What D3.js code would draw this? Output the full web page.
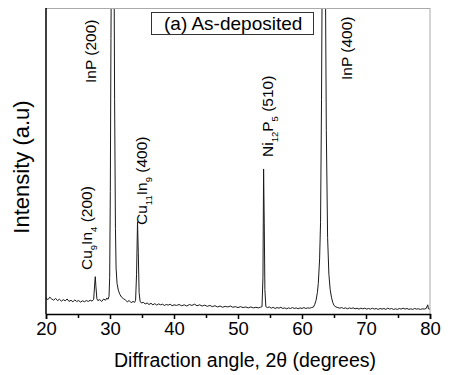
<!DOCTYPE html>
<html>
<head>
<meta charset="utf-8">
<script src="https://cdn.jsdelivr.net/npm/d3@7"></script>
<style>
  body { margin: 0; background: #fff; }
  text { font-family: "Liberation Sans", Arial, sans-serif; }
</style>
</head>
<body>
<div id="chart"></div>
<script>
// XRD scan, 2theta (deg) vs intensity (arbitrary units)
const scan = [
  [20.0,52],[20.3,47],[20.6,55],[20.9,49],[21.2,45],[21.5,51],[21.8,44],[22.1,48],[22.4,42],[22.7,47],
  [23.0,43],[23.3,49],[23.6,41],[23.9,45],[24.2,40],[24.5,46],[24.8,41],[25.1,44],[25.4,39],[25.7,43],
  [26.0,40],[26.3,44],[26.6,41],[26.9,45],[27.2,42],[27.45,48],[27.6,95],[27.7,122],[27.8,90],[27.95,50],
  [28.1,44],[28.4,47],[28.7,41],[29.0,49],[29.3,45],[29.5,52],[29.7,48],[29.85,58],[29.95,120],[30.05,400],
  [30.15,900],[30.3,1500],[30.45,1600],[30.6,1300],[30.72,700],[30.85,280],[30.95,150],[31.1,100],[31.3,78],[31.5,66],
  [31.8,55],[32.1,50],[32.4,46],[32.7,40],[33.0,44],[33.3,37],[33.6,41],[33.85,38],[34.0,45],[34.15,130],
  [34.3,301],[34.42,200],[34.55,70],[34.7,42],[34.9,36],[35.2,38],[35.5,33],[35.8,36],[36.1,31],[36.4,35],
  [36.7,30],[37.0,34],[37.3,29],[37.6,33],[37.9,30],[38.2,32],[38.5,28],[38.8,31],[39.1,29],[39.4,32],
  [39.7,27],[40.0,30],[40.4,28],[40.8,31],[41.2,27],[41.6,30],[42.0,26],[42.4,31],[42.8,28],[43.2,32],
  [43.6,27],[44.0,30],[44.4,26],[44.8,29],[45.2,25],[45.6,28],[46.0,24],[46.4,27],[46.8,23],[47.2,26],
  [47.6,22],[48.0,25],[48.4,23],[48.8,26],[49.2,22],[49.6,24],[50.0,21],[50.4,24],[50.8,21],[51.2,23],
  [51.6,20],[52.0,23],[52.4,20],[52.8,22],[53.2,20],[53.5,22],[53.75,24],[53.9,120],[54.0,474],[54.1,300],
  [54.2,80],[54.35,24],[54.6,21],[54.9,23],[55.2,19],[55.5,22],[55.8,18],[56.1,21],[56.4,19],[56.7,22],
  [57.0,18],[57.3,20],[57.6,17],[57.9,20],[58.2,18],[58.5,21],[58.8,18],[59.1,20],[59.4,17],[59.7,20],
  [60.0,18],[60.3,21],[60.6,18],[60.9,20],[61.2,19],[61.5,21],[61.8,23],[62.0,32],[62.2,45],[62.4,70],
  [62.55,100],[62.75,180],[62.9,300],[63.05,700],[63.2,1300],[63.4,1600],[63.6,1300],[63.8,600],[64.0,250],[64.2,130],
  [64.4,80],[64.6,55],[64.8,38],[65.0,28],[65.3,23],[65.6,21],[65.9,19],[66.2,21],[66.5,18],[66.8,20],
  [67.1,17],[67.4,20],[67.7,18],[68.0,20],[68.3,17],[68.6,19],[68.9,16],[69.2,19],[69.5,17],[69.8,19],
  [70.1,16],[70.4,18],[70.7,16],[71.0,19],[71.3,16],[71.6,18],[71.9,15],[72.2,18],[72.5,16],[72.8,18],
  [73.1,15],[73.4,19],[73.7,16],[74.0,18],[74.3,15],[74.6,17],[74.9,15],[75.2,18],[75.5,16],[75.8,19],
  [76.1,16],[76.4,18],[76.7,15],[77.0,17],[77.3,15],[77.6,18],[77.9,16],[78.2,17],[78.5,15],[78.8,17],
  [79.1,16],[79.4,18],[79.65,30],[79.75,17],[80.0,16]
];

const majorTicks = [20, 30, 40, 50, 60, 70, 80];
const minorTicks = [25, 35, 45, 55, 65, 75];

// peak labels: [text, "sub" for subscript]
const peakLabels = [
  [["Cu",""],["9","sub"],["In",""],["4","sub"],[" (200)",""]],
  [["InP (200)",""]],
  [["Cu",""],["11","sub"],["In",""],["9","sub"],[" (400)",""]],
  [["Ni",""],["12","sub"],["P",""],["5","sub"],[" (510)",""]],
  [["InP (400)",""]]
];
// where each label sits: baseline x (px), start y (px)
const labelPos = [[92, 270], [96, 83], [147, 225], [273, 157], [352, 80]];

const W = 466, H = 375;
const margin = { top: 8, right: 36, bottom: 61, left: 46 };
const width = W - margin.left - margin.right;
const height = H - margin.top - margin.bottom;

const svg = d3.select("#chart").append("svg")
  .attr("width", W).attr("height", H);

const g = svg.append("g")
  .attr("transform", `translate(${margin.left},${margin.top})`);

const x = d3.scaleLinear().domain([20, 80]).range([0, width]);
const y = d3.scaleLinear().domain([0, 1000]).range([height, 0]);

g.append("clipPath").attr("id", "clip")
  .append("rect").attr("width", width).attr("height", height);

g.append("path")
  .datum(scan)
  .attr("clip-path", "url(#clip)")
  .attr("fill", "none")
  .attr("stroke", "#1a1a1a")
  .attr("stroke-width", 1)
  .attr("d", d3.line().x(d => x(d[0])).y(d => y(d[1])));

// frame: top and right in grey
g.append("line").attr("x1", 0).attr("x2", width).attr("y1", 0.5).attr("y2", 0.5)
  .attr("stroke", "#aaa");
g.append("line").attr("x1", width).attr("x2", width).attr("y1", 0).attr("y2", height)
  .attr("stroke", "#aaa");
g.append("line").attr("x1", 0).attr("x2", 0).attr("y1", 0).attr("y2", height)
  .attr("stroke", "#000").attr("stroke-width", 1.5);

const xAxis = g.append("g")
  .attr("transform", `translate(0,${height})`)
  .call(d3.axisBottom(x).tickValues(majorTicks).tickSize(5).tickPadding(3).tickFormat(d3.format("d")));
xAxis.select(".domain").attr("stroke-width", 1.5);
xAxis.selectAll(".tick line").attr("stroke-width", 1.5);
xAxis.selectAll("text").style("font-size", "18.5px").attr("fill", "#000")
  .style("font-family", "'Liberation Sans', Arial, sans-serif");

const xMinor = g.append("g")
  .attr("transform", `translate(0,${height})`)
  .call(d3.axisBottom(x).tickValues(minorTicks).tickSize(4).tickFormat(""));
xMinor.select(".domain").remove();
xMinor.selectAll(".tick line").attr("stroke-width", 1.5);

svg.append("text")
  .attr("x", 245)
  .attr("y", 367)
  .attr("text-anchor", "middle")
  .style("font-size", "19.5px")
  .text("Diffraction angle, 2θ (degrees)");

svg.append("text")
  .attr("transform", `translate(29,${167}) rotate(-90)`)
  .attr("text-anchor", "middle")
  .style("font-size", "22px")
  .text("Intensity (a.u)");

// legend box
svg.append("rect")
  .attr("x", 151.5).attr("y", 12.5).attr("width", 162).attr("height", 22)
  .attr("fill", "#fff").attr("stroke", "#333");
svg.append("text")
  .attr("x", 164).attr("y", 30)
  .style("font-size", "19px")
  .text("(a) As-deposited");

// peak labels
peakLabels.forEach((parts, i) => {
  const [px, py] = labelPos[i];
  const t = svg.append("text")
    .attr("transform", `translate(${px},${py}) rotate(-90)`)
    .style("font-size", "15.5px");
  let shifted = false;
  parts.forEach(([s, kind]) => {
    const ts = t.append("tspan").text(s);
    if (kind === "sub") { ts.attr("dy", 5).style("font-size", "9.5px"); shifted = true; }
    else if (shifted) { ts.attr("dy", -5); shifted = false; }
  });
});
</script>
</body>
</html>
